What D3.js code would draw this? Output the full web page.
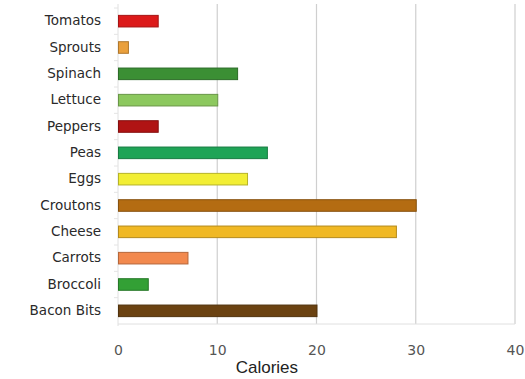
<!DOCTYPE html>
<html><head><meta charset="utf-8">
<script src="https://cdn.jsdelivr.net/npm/d3@7"></script>
<style>html,body{margin:0;padding:0;background:#fff;}svg{display:block;}</style>
</head><body><svg id="c" width="525" height="379"></svg>
<script>
const categories = ["Tomatos","Sprouts","Spinach","Lettuce","Peppers","Peas","Eggs","Croutons","Cheese","Carrots","Broccoli","Bacon Bits"];
const calories = [4,1,12,10,4,15,13,30,28,7,3,20];
const barColors = ["#dc1a1a","#eaa03c","#3b8f34","#8cc85e","#b01414","#1ea456","#f2ee34","#b46c12","#f0b824","#f2894e","#33a035","#6b4211"];
const xTicks = [0,10,20,30,40];
const xTitle = "Calories";

const svg = d3.select("#c");
const m = {left:118, right:10, top:8, bottom:55};
const x = d3.scaleLinear().domain([0,40]).range([m.left, 515]);
const y = d3.scaleBand().domain(categories).range([m.top, 324]).paddingInner(0.56).paddingOuter(0.28);

// grid
svg.append("g").selectAll("line").data(xTicks.filter(d=>d>0)).join("line")
  .attr("x1",d=>x(d)).attr("x2",d=>x(d)).attr("y1",4).attr("y2",324)
  .attr("stroke","#cfcfcf").attr("stroke-width",1.2);

// axes lines
svg.append("line").attr("x1",x(0)).attr("x2",x(0)).attr("y1",4).attr("y2",326).attr("stroke","#e0e0e0");
svg.append("line").attr("x1",x(0)).attr("x2",515).attr("y1",324).attr("y2",324).attr("stroke","#e0e0e0");

// y band ticks
const edges = categories.map(c=>y(c)-y.step()*y.paddingInner()/2);
svg.append("g").selectAll("line").data(edges).join("line")
  .attr("x1",x(0)-4).attr("x2",x(0)).attr("y1",d=>d).attr("y2",d=>d).attr("stroke","#e4e4e4");

// bars
svg.append("g").selectAll("rect").data(categories).join("rect")
  .attr("x",x(0)+0.5).attr("y",d=>y(d))
  .attr("width",(d,i)=>x(calories[i])-x(0))
  .attr("height",y.bandwidth())
  .attr("fill",(d,i)=>barColors[i])
  .attr("stroke",(d,i)=>d3.color(barColors[i]).darker(0.8))
  .attr("stroke-width",1);

// y labels
const yAxis = d3.axisLeft(y).tickSize(0).tickPadding(17);
const gy = svg.append("g").attr("transform",`translate(${x(0)},0)`).call(yAxis);
gy.select(".domain").remove();
gy.selectAll("text").attr("font-family","'DejaVu Sans', sans-serif").attr("font-size","13.5px").attr("fill","#2a2a2a");

// x axis
const xAxis = d3.axisBottom(x).tickValues(xTicks).tickSize(0).tickPadding(21);
const gx = svg.append("g").attr("transform","translate(0,324)").call(xAxis);
gx.select(".domain").remove();
gx.selectAll("text").attr("font-family","'DejaVu Sans', sans-serif").attr("font-size","14px").attr("fill","#555");

svg.append("text").attr("x",x(15)).attr("y",373).attr("text-anchor","middle")
  .attr("font-family","'Liberation Sans', Arial, sans-serif").attr("font-size","17px").attr("fill","#222").text(xTitle);
</script></body></html>
